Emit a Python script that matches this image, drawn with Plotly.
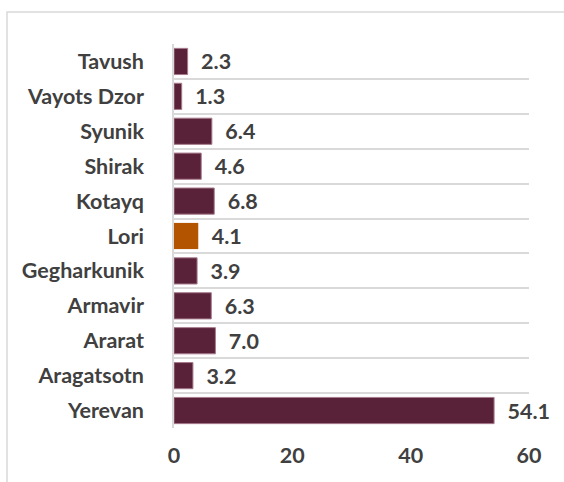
import plotly.graph_objects as go

regions = ["Yerevan", "Aragatsotn", "Ararat", "Armavir", "Gegharkunik", "Lori",
           "Kotayq", "Shirak", "Syunik", "Vayots Dzor", "Tavush"]
values = [54.1, 3.2, 7.0, 6.3, 3.9, 4.1, 6.8, 4.6, 6.4, 1.3, 2.3]
highlight = "Lori"
x_ticks = [0, 20, 40, 60]

base = "#5A2238"
hi = "#B35500"
colors = [hi if r == highlight else base for r in regions]
lines = ["rgba(0,0,0,0)" if r == highlight else "#A67A8C" for r in regions]

font = "Lato"
txtc = "#404040"
fs = 21.5

fig = go.Figure(go.Bar(
    y=regions, x=values, orientation="h",
    marker=dict(color=colors, line=dict(color=lines, width=1)),
    text=[f"{v:.1f}" for v in values],
    texttemplate="  %{text}",
    textposition="outside",
    textfont=dict(family=font, size=fs, color=txtc, weight="bold"),
    cliponaxis=False,
    width=0.75,
))

W, H = 564, 482
l, r, t, b = 174, 35, 44, 54
pw, ph = W - l - r, H - t - b

fig.update_layout(
    width=W, height=H,
    margin=dict(l=l, r=r, t=t, b=b),
    paper_bgcolor="white", plot_bgcolor="white",
    showlegend=False,
    font=dict(family=font, color=txtc),
    xaxis=dict(range=[0, 60], tickvals=x_ticks, showgrid=False, zeroline=False,
               showline=False, automargin=False, ticklabelstandoff=12,
               tickfont=dict(family=font, size=fs, color=txtc, weight="bold"),
               ticks="", ticklen=0),
    yaxis=dict(type="category", categoryorder="array", categoryarray=regions,
               tickson="boundaries", showgrid=True, gridcolor="#D9D9D9", gridwidth=1.5,
               showline=True, linecolor="#D9D9D9", linewidth=1.5, automargin=False,
               ticks="", ticklabelstandoff=24,
               tickfont=dict(family=font, size=fs, color=txtc, weight="bold")),
    shapes=[dict(type="rect", xref="paper", yref="paper",
                 x0=(7 - l) / pw, x1=(W + 10 - l) / pw,
                 y0=-(H + 10 - (t + ph)) / ph, y1=1 + (t - 12) / ph,
                 line=dict(color="#D9D9D9", width=1.5), layer="below")],
)

fig.write_html("out.html", config={"displayModeBar": False},
               post_script="document.body.style.margin='0';")
